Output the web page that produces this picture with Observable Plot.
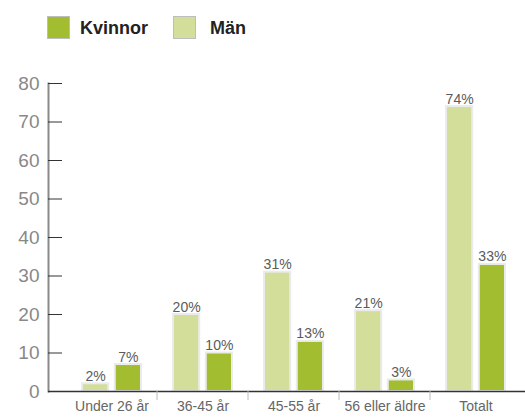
<!DOCTYPE html>
<html>
<head>
<meta charset="utf-8">
<script src="https://cdn.jsdelivr.net/npm/d3@7"></script>
<script src="https://cdn.jsdelivr.net/npm/@observablehq/plot@0.6"></script>
<style>
  html, body { margin: 0; padding: 0; background: #fff; }
  body { width: 525px; height: 417px; overflow: hidden; font-family: "Liberation Sans", Arial, Helvetica, sans-serif; }
  #legend { position: relative; height: 60px; }
  .sw { position: absolute; top: 16px; width: 23px; height: 23px; border: 1px solid #bdbdbd; box-sizing: border-box; }
  .lt { position: absolute; top: 17px; font-size: 18px; font-weight: bold; color: #222; line-height: 22px; }
  #chart svg { display: block; }
</style>
</head>
<body>
<div id="legend"></div>
<div id="chart"></div>
<script>
const categories = ["Under 26 år", "36-45 år", "45-55 år", "56 eller äldre", "Totalt"];
const manValues = [2, 20, 31, 21, 74];
const kvinnorValues = [7, 10, 13, 3, 33];
const yTicks = [0, 10, 20, 30, 40, 50, 60, 70, 80];
const seriesNames = ["Kvinnor", "Män"];
const seriesColors = ["#a3bd31", "#d4de9b"];

// legend
const legend = document.getElementById("legend");
const legendPos = [[47, 80], [173, 210]];
seriesNames.forEach((name, i) => {
  const sw = document.createElement("div");
  sw.className = "sw";
  sw.style.left = legendPos[i][0] + "px";
  sw.style.background = seriesColors[i];
  legend.appendChild(sw);
  const t = document.createElement("div");
  t.className = "lt";
  t.style.left = legendPos[i][1] + "px";
  t.textContent = name;
  legend.appendChild(t);
});

const manRows = categories.map((c, i) => ({category: c, value: manValues[i], label: manValues[i] + "%"}));
const kvRows = categories.map((c, i) => ({category: c, value: kvinnorValues[i], label: kvinnorValues[i] + "%"}));

const W = 525, H = 357, mL = 48, mR = 0, mT = 23, mB = 26;
const xRange = [48, 540], xPad = 0.35;
const step = (xRange[1] - xRange[0]) / (categories.length - xPad + 2 * xPad);
const bw = step * (1 - xPad);
const barW = 27;
const inset = bw - barW;
const labelOff = (bw - barW) / 2;

const chart = Plot.plot({
  width: W, height: H,
  marginLeft: mL, marginRight: mR, marginTop: mT, marginBottom: mB,
  style: {fontFamily: "Liberation Sans, Arial, Helvetica, sans-serif", background: "#fff", overflow: "visible"},
  x: {domain: categories, range: xRange, padding: xPad, axis: null},
  y: {domain: [0, 80], axis: null},
  marks: [
    Plot.barY(manRows, {x: "category", y: "value", fill: seriesColors[1], stroke: "#ebebeb", strokeWidth: 2, insetRight: inset}),
    Plot.barY(kvRows, {x: "category", y: "value", fill: seriesColors[0], stroke: "#ebebeb", strokeWidth: 2, insetLeft: inset}),
    Plot.frame({anchor: "left", stroke: "#8a8a8a", strokeWidth: 2}),
    Plot.tickY(yTicks.slice(1), {y: d => d, stroke: "#333", strokeWidth: 1, insetRight: (W - mL - mR) - 14}),
    Plot.ruleY([0], {stroke: "#333", strokeWidth: 1.5}),
    Plot.axisY({ticks: yTicks, tickSize: 0, tickPadding: 9, fontSize: 19, fill: "#888", label: null}),
    Plot.axisX({tickSize: 0, tickPadding: 10, fontSize: 14, fill: "#666", label: null}),
    Plot.axisX({ticks: categories.slice(1), tickSize: 9, tickFormat: () => "", dx: -step / 2, stroke: "#bbb", label: null}),
    Plot.text(manRows, {x: "category", y: "value", text: "label", dx: -labelOff, dy: -3, lineAnchor: "bottom", fontSize: 14, fill: "#5a5a5a"}),
    Plot.text(kvRows, {x: "category", y: "value", text: "label", dx: labelOff, dy: -3, lineAnchor: "bottom", fontSize: 14, fill: "#5a5a5a"})
  ]
});
document.getElementById("chart").appendChild(chart);
</script>
</body>
</html>
